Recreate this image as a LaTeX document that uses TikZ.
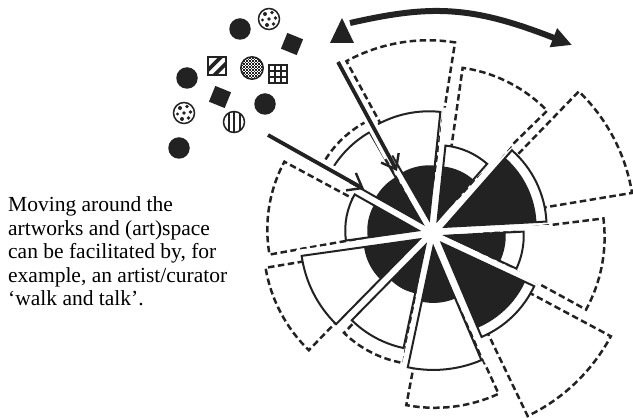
\documentclass[tikz,border=0pt]{standalone}
\usepackage{fontspec}
\setmainfont{Liberation Serif}
\usetikzlibrary{arrows.meta,calc}
\definecolor{ink}{RGB}{34,34,34}
\begin{document}
\begin{tikzpicture}[x=1pt,y=1pt,
  dwedge/.style={fill=white,draw=ink,line width=2.5pt,dash pattern=on 6.5pt off 3.5pt,line join=miter},
  swedge/.style={fill=white,draw=ink,line width=2pt,line join=miter},
  bwedge/.style={fill=ink},
  token/.style={draw=ink,line width=1.5pt,fill=white},
  dot/.style={circle,fill=ink,inner sep=0pt,minimum size=21.5pt},
  blk/.style={fill=ink,inner sep=0pt,minimum size=17pt,rotate=-22},
  barrow/.style={ink,line width=3.8pt,-{Straight Barb[length=13pt,width=20pt,line width=2.4pt]}},
  halo/.style={white,line width=11pt,shorten >=16pt},
  cookie/.pic={
    \draw[token] (0,0) circle (10.5);
    \foreach \u/\v/\w in {-4/5/2,3/6.5/1.8,6.5/1/1.9,0/0/1.8,-6.5/-1/1.7,-2/-6/2,4.5/-5/1.8}
      \fill[ink] (\u,\v) circle (\w);
  },
  stripes/.pic={
    \fill[white] (0,0) circle (10.5);
    \begin{scope}
      \clip (0,0) circle (10.5);
      \foreach \u in {-5.5,0,5.5} \draw[ink,line width=2pt] (\u,-11) -- (\u,11);
    \end{scope}
    \draw[ink,line width=1.5pt] (0,0) circle (10.5);
  },
  checker/.pic={
    \fill[white] (0,0) circle (11.2);
    \begin{scope}
      \clip (0,0) circle (11.2);
      \foreach \i in {-8,-6,...,8} \foreach \j in {-8,-6,...,8}
        {\fill[ink] (\i*1.5,\j*1.5) rectangle ++(1.5,1.5);
         \fill[ink] (\i*1.5+1.5,\j*1.5+1.5) rectangle ++(1.5,1.5);}
    \end{scope}
    \draw[ink,line width=1.5pt] (0,0) circle (11.2);
  },
  hatchsq/.pic={
    \fill[white] (-8.8,-8.8) rectangle (8.8,8.8);
    \begin{scope}
      \clip (-8.8,-8.8) rectangle (8.8,8.8);
      \foreach \c in {-6.5,5} \draw[ink,line width=3.6pt] (-12,-12+\c) -- (12,12+\c);
    \end{scope}
    \draw[ink,line width=1.5pt] (-8.8,-8.8) rectangle (8.8,8.8);
  },
  gridsq/.pic={
    \draw[token] (-9,-9) rectangle (9,9);
    \draw[ink,line width=1.5pt] (-3,-9)--(-3,9) (3,-9)--(3,9) (-9,-3)--(9,-3) (-9,3)--(9,3);
  },
]
\useasboundingbox (0,0) rectangle (633,418);
\coordinate (C) at (432,185);

% outer dashed slices: start/end/radius/apex offset
\foreach \a/\b/\r/\px/\py in {
  9.4/45.9/183/19.5/10.2,
  44.3/81.9/147/9.95/19.6,
  81.0/118.6/171/-3.7/21.7,
  116.7/150.5/108/-15.2/15.9,
  151.7/190.1/143/-21.7/3.5,
  189.5/225.9/149/-19.5/-10.2,
  225.8/260.4/112/-9.9/-19.6,
  259.3/294.7/153/2.7/-21.8,
  295.7/331.9/185.5/15.2/-15.9,
  331.3/367.1/151/21.6/-4.1}
  {\draw[dwedge] ($(C)+(\px,\py)$) -- ++(\a:\r pt) arc[start angle=\a,end angle=\b,radius=\r pt] -- cycle;}

% inner slices: start/end/ring radius/black radius
\foreach \a/\b/\s/\k in {
  3/48.7/102/92, 48.7/84/75/54, 84/120/108/54, 120/150.5/105/53,
  150.5/188/73/51, 188/225.5/119/56, 225.5/258/105/49, 258/293/123/56,
  293/335/102/92, 335/363/78/60}
  {\pgfmathsetmacro\m{(\a+\b)/2}
   \draw[swedge] ($(C)+(\m:14pt)$) -- ++(\a:\s pt) arc[start angle=\a,end angle=\b,radius=\s pt] -- cycle;
   \fill[bwedge] ($(C)+(\m:14pt)$) -- ++(\a:\k pt) arc[start angle=\a,end angle=\b,radius=\k pt] -- cycle;}

% clean white gaps between the inner slices
\foreach \g/\l in {3/120,48.7/120,84/126,120/126,150.5/123,188/137,225.5/137,258/141,293/141,335/120}
  {\draw[white,line width=4pt] (C) -- ++(\g:\l pt);}

% arrows into the centre
\coordinate (a1s) at (338,356);
\coordinate (a1e) at (397,247);
\coordinate (a2s) at (268,283);
\coordinate (a2e) at (364,229);
\draw[halo] (a1s) -- (a1e);
\draw[halo] (a2s) -- (a2e);
\draw[barrow] (a1s) -- (a1e);
\draw[barrow] (a2s) -- (a2e);

% triangle and curved arrow
\coordinate (tri) at (342,400);
\fill[ink] (tri) -- (330,375) -- (354,375) -- cycle;
\coordinate (t1) at (350,395);
\coordinate (t2) at (572,373);
\draw[ink,line width=6pt,-{Triangle[length=20pt,width=19pt]}] (t1) .. controls (430,413) and (470,413) .. (t2);

% tokens
\node[dot] (d1) at (240,389) {};
\node[dot] (d2) at (187,340) {};
\node[dot] (d3) at (265,314) {};
\node[dot] (d4) at (179,270) {};
\node[blk] (s1) at (292,374) {};
\node[blk] (s2) at (220,321) {};
\pic at (269,399) {cookie};
\pic at (184,305) {cookie};
\pic at (234,296) {stripes};
\pic at (217,352) {hatchsq};
\pic at (278,344) {gridsq};
\pic at (252,350) {checker};

% caption
\node[anchor=base west,align=left,inner sep=0pt,font=\fontsize{21.5}{23.5}\selectfont] (cap) at (8,112)
  {Moving around the\\artworks and (art)space\\can be facilitated by, for\\example, an artist/curator\\‘walk and talk’.};
\end{tikzpicture}
\end{document}
